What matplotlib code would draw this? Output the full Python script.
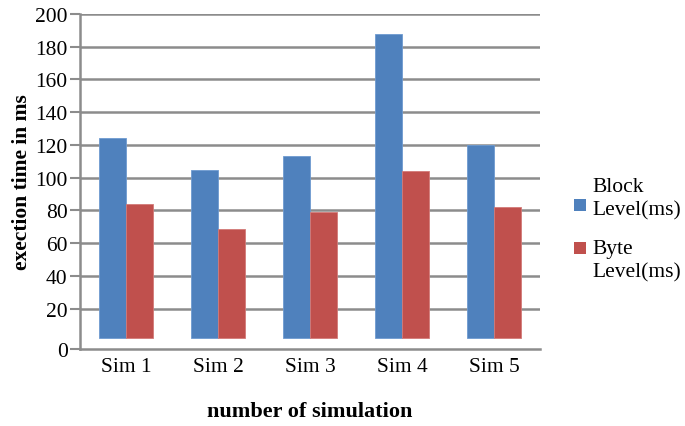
import matplotlib
matplotlib.use("Agg")
import matplotlib.pyplot as plt
from matplotlib.patches import Rectangle
import numpy as np

plt.rcParams["font.family"] = ["Liberation Serif", "DejaVu Serif"]

# data
categories = ["Sim 1", "Sim 2", "Sim 3", "Sim 4", "Sim 5"]
block_level = [124.5, 105, 113.5, 188, 120]
byte_level = [84, 68.5, 79, 104, 82]
series_names = ["Block\nLevel(ms)", "Byte\nLevel(ms)"]
y_ticks = [20, 40, 60, 80, 100, 120, 140, 160, 180, 200]

BLUE = "#4F81BD"
RED = "#C0504D"
GRID = "#8C8C8C"
AXIS_FLOOR = -4.6   # the reference draws its "0" below the true zero
BAR_BASE = 2

fig = plt.figure(figsize=(6.85, 4.27), dpi=100)
ax = fig.add_axes([0.1168, 0.1803, 0.6715, 0.7846])

x = np.arange(len(categories))
w = 0.29
ax.bar(x - w / 2, np.array(block_level) - BAR_BASE, w, bottom=BAR_BASE,
       color=BLUE, edgecolor="#6E9BD1", linewidth=0.6, zorder=3)
ax.bar(x + w / 2, np.array(byte_level) - BAR_BASE, w, bottom=BAR_BASE,
       color=RED, edgecolor="#D27A78", linewidth=0.6, zorder=3)

ax.set_xlim(-0.5, len(categories) - 0.5)
ax.set_ylim(AXIS_FLOOR, 200)
ax.set_yticks([AXIS_FLOOR] + y_ticks)
ax.set_yticklabels(["0"] + [str(t) for t in y_ticks])
for t in y_ticks:
    ax.axhline(t, color=GRID, linewidth=1.8, zorder=1)

ax.set_xticks(x)
ax.set_xticklabels(categories)
ax.tick_params(axis="x", length=0, labelsize=15.5, pad=6)
ax.tick_params(axis="y", length=7, width=1.5, color=GRID, labelsize=15.5, pad=2)

for side in ["top", "right"]:
    ax.spines[side].set_visible(False)
for side in ["left", "bottom"]:
    ax.spines[side].set_color(GRID)
    ax.spines[side].set_linewidth(1.8)

ax.set_ylabel("exection time in ms", fontsize=15.5, fontweight="bold", labelpad=2)
ax.set_xlabel("number of simulation", fontsize=16, fontweight="bold", labelpad=18)

# legend drawn by hand: the squares sit beside different text lines
W, H = 685.0, 427.0
legend_items = [
    (series_names[0], BLUE, 178, 200),   # (label, colour, text top px, square top px)
    (series_names[1], RED, 240, 243),
]
for label, colour, text_top, sq_top in legend_items:
    fig.text(592 / W, 1 - text_top / H, label, fontsize=15.5, va="top",
             ha="left", linespacing=1.3)
    fig.patches.append(Rectangle((574 / W, 1 - (sq_top + 12) / H), 12 / W, 12 / H,
                                 transform=fig.transFigure, facecolor=colour,
                                 edgecolor="none"))

fig.savefig("out.png", dpi=100)
